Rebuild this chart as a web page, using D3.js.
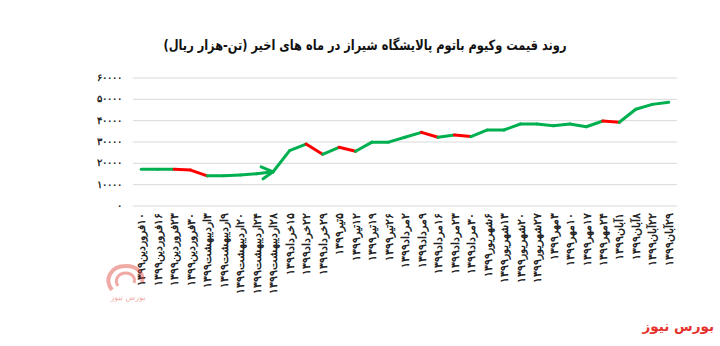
<!DOCTYPE html>
<html>
<head>
<meta charset="utf-8">
<script src="https://cdn.jsdelivr.net/npm/d3@7"></script>
<style>
  body { margin: 0; background: #fff; }
  svg { display: block; font-family: "DejaVu Sans", sans-serif; }
</style>
</head>
<body>
<svg width="720" height="346"></svg>
<script>
// **** Data ****

var dates = [
    "۱۰فروردین۱۳۹۹", "۱۶فروردین۱۳۹۹", "۲۳فروردین۱۳۹۹", "۳۰فروردین۱۳۹۹",
    "۳اردیبهشت۱۳۹۹", "۹اردیبهشت۱۳۹۹", "۲۰اردیبهشت۱۳۹۹", "۲۴اردیبهشت۱۳۹۹",
    "۲۸اردیبهشت۱۳۹۹", "۱۵خرداد۱۳۹۹", "۲۲خرداد۱۳۹۹", "۲۹خرداد۱۳۹۹",
    "۵تیر۱۳۹۹", "۱۲تیر۱۳۹۹", "۱۹تیر۱۳۹۹", "۲۶تیر۱۳۹۹",
    "۲مرداد۱۳۹۹", "۹مرداد۱۳۹۹", "۱۶مرداد۱۳۹۹", "۲۳مرداد۱۳۹۹",
    "۳۰مرداد۱۳۹۹", "۶شهریور۱۳۹۹", "۱۳شهریور۱۳۹۹", "۲۰شهریور۱۳۹۹",
    "۲۷شهریور۱۳۹۹", "۳مهر۱۳۹۹", "۱۰مهر۱۳۹۹", "۱۷مهر۱۳۹۹",
    "۲۴مهر۱۳۹۹", "۱آبان۱۳۹۹", "۸آبان۱۳۹۹", "۲۲آبان۱۳۹۹", "۲۹آبان۱۳۹۹"
];

var prices = [
    17000, 17000, 17000, 16600, 13900, 13950, 14300, 14900,
    15800, 25700, 28800, 24000, 27300, 25400, 29700, 29700,
    32000, 34300, 32000, 33000, 32300, 35400, 35400, 38200,
    38200, 37400, 38200, 36900, 39600, 39000, 45100, 47400, 48400
];

// weeks the source marked as a decline (index of the week that fell)
var declineWeeks = [3, 4, 11, 13, 18, 20, 29];

var yTicks = [0, 10000, 20000, 30000, 40000, 50000, 60000];

var title = "روند قیمت وکیوم باتوم پالایشگاه شیراز در ماه های اخیر (تن-هزار ریال)";

// **** Helpers ****

var faDigits = "۰۱۲۳۴۵۶۷۸۹";
function toPersian(n) {
    return String(n).replace(/\d/g, d => faDigits[+d]);
}

// **** Scales and axes ****

var svg = d3.select("svg");

var x = d3.scalePoint()
    .domain(dates).range([133, 677]).padding(0.5);

var y = d3.scaleLinear()
    .domain([0, 60000]).range([205.5, 77.5]);

var yAxis = svg.append("g")
    .attr("transform", "translate(133,0)")
    .call(d3.axisLeft(y).tickValues(yTicks).tickSize(-544).tickPadding(11).tickFormat(toPersian));

yAxis.select(".domain").remove();
yAxis.selectAll("line").attr("stroke", "#d9d9d9");
yAxis.selectAll("text")
    .style("font-size", "9.5px")
    .style("font-weight", "bold")
    .attr("fill", "#222");

var xAxis = svg.append("g")
    .attr("transform", "translate(0,205.5)")
    .call(d3.axisBottom(x).tickSize(0));

xAxis.select(".domain").remove();
xAxis.selectAll("text")
    .attr("transform", "rotate(-90)")
    .attr("direction", "rtl")
    .attr("text-anchor", "start")
    .attr("x", -7)
    .attr("y", 0)
    .attr("dy", "0.35em")
    .style("font-size", "10.5px")
    .style("font-weight", "bold")
    .attr("fill", "#222");

// **** Line, one segment per week, red where the price fell ****

var segments = d3.range(1, prices.length).map(i => ({ i: i, a: i - 1 }));

svg.append("g").selectAll("line")
    .data(segments)
    .enter()
    .append("line")
    .attr("x1", d => x(dates[d.a]))
    .attr("y1", d => y(prices[d.a]))
    .attr("x2", d => x(dates[d.i]))
    .attr("y2", d => y(prices[d.i]))
    .attr("stroke", d => declineWeeks.includes(d.i) ? "#ff0000" : "#00b050")
    .attr("stroke-width", 3)
    .attr("stroke-linecap", "round");

// arrow head drawn on the recovery point
var tipX = x(dates[8]), tipY = y(prices[8]);
svg.append("path")
    .attr("d", `M${tipX - 12},${tipY - 5} L${tipX},${tipY} L${tipX - 10},${tipY + 7}`)
    .attr("fill", "none")
    .attr("stroke", "#00b050")
    .attr("stroke-width", 3)
    .attr("stroke-linecap", "round")
    .attr("stroke-linejoin", "round");

// **** Title and branding ****

svg.append("text")
    .attr("x", 365)
    .attr("y", 50)
    .attr("text-anchor", "middle")
    .attr("textLength", 403)
    .attr("lengthAdjust", "spacingAndGlyphs")
    .style("font-size", "14px")
    .style("font-weight", "bold")
    .attr("fill", "#111")
    .text(title);

var logo = svg.append("g").attr("opacity", 0.45);
logo.append("path")
    .attr("d", "M112,290 C104,280 110,266 126,266 C138,266 144,274 142,282")
    .attr("fill", "none").attr("stroke", "#e0453a").attr("stroke-width", 4);
logo.append("path")
    .attr("d", "M118,286 C114,280 118,273 126,273 C132,273 136,278 134,283")
    .attr("fill", "none").attr("stroke", "#e0453a").attr("stroke-width", 3);
logo.append("text")
    .attr("x", 128).attr("y", 300)
    .attr("text-anchor", "middle")
    .style("font-size", "8px")
    .attr("fill", "#e0453a")
    .text("بورس نیوز");

svg.append("text")
    .attr("x", 714)
    .attr("y", 331)
    .attr("text-anchor", "end")
    .style("font-size", "13.5px")
    .style("font-weight", "bold")
    .attr("fill", "#e5322d")
    .text("بورس نیوز");
</script>
</body>
</html>
